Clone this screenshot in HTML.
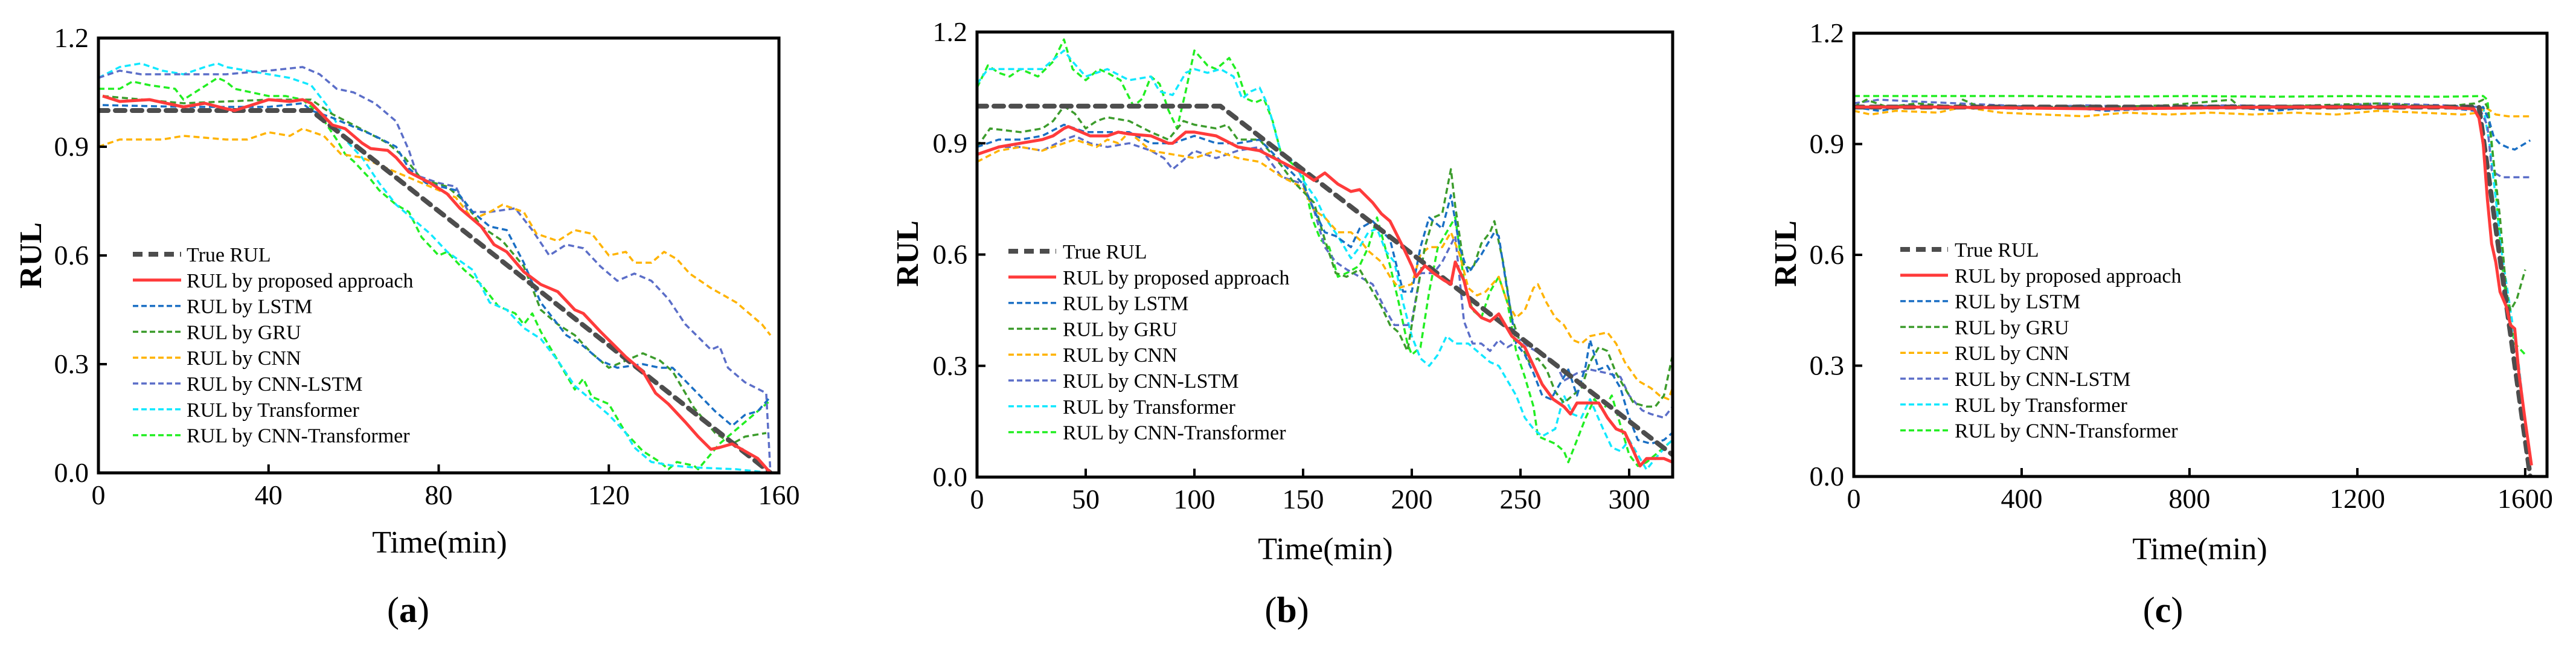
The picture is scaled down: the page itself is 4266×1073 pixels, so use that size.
<!DOCTYPE html>
<html><head><meta charset="utf-8"><style>
html,body{margin:0;padding:0;background:#fff;}
svg{display:block;}
text{font-family:"Liberation Serif",serif;fill:#000;}
</style></head><body>
<svg id="fig" width="4266" height="1073" viewBox="0 0 4266 1073" xmlns="http://www.w3.org/2000/svg"></svg>
<script>
// ---------- data ----------
const yTicks = [0.0, 0.3, 0.6, 0.9, 1.2];
const aXTicks = [0, 40, 80, 120, 160];
const bXTicks = [0, 50, 100, 150, 200, 250, 300];
const cXTicks = [0, 400, 800, 1200, 1600];
const seriesNames = ["True RUL","RUL by proposed approach","RUL by LSTM","RUL by GRU","RUL by CNN","RUL by CNN-LSTM","RUL by Transformer","RUL by CNN-Transformer"];

const a_true = [[0,1.0],[50,1.0],[158,0.0]];
const a_red = [[1,1.04],[5,1.025],[12,1.03],[20,1.01],[25,1.02],[30,1.005],[32,1.0],[40,1.03],[45,1.025],[48,1.03],[50,1.02],[55,0.96],[58,0.95],[62,0.91],[64,0.895],[68,0.89],[70,0.87],[73,0.83],[78,0.8],[82,0.77],[85,0.73],[90,0.68],[93,0.63],[96,0.61],[100,0.555],[104,0.52],[108,0.50],[112,0.45],[114,0.44],[118,0.39],[124,0.32],[128,0.28],[131,0.22],[134,0.19],[138,0.14],[141,0.10],[144,0.065],[146,0.07],[149,0.08],[152,0.06],[155,0.04],[158,0.0]];
const a_lstm = [[1,1.015],[20,1.01],[40,1.01],[48,1.02],[50,1.0],[55,0.98],[60,0.955],[65,0.93],[70,0.9],[73,0.84],[77,0.8],[84,0.78],[88,0.72],[92,0.68],[96,0.67],[100,0.58],[104,0.47],[110,0.38],[114,0.35],[118,0.31],[122,0.29],[128,0.30],[132,0.29],[135,0.29],[140,0.23],[145,0.17],[149,0.13],[152,0.16],[155,0.17],[158,0.21]];
const a_gru = [[1,1.04],[20,1.02],[40,1.03],[50,1.03],[55,0.99],[60,0.96],[68,0.91],[72,0.87],[76,0.81],[82,0.79],[86,0.75],[90,0.68],[95,0.64],[100,0.57],[104,0.45],[108,0.41],[112,0.38],[116,0.33],[120,0.29],[124,0.31],[128,0.33],[132,0.31],[135,0.28],[140,0.18],[145,0.11],[149,0.08],[152,0.10],[157,0.11]];
const a_cnn = [[0,0.9],[5,0.92],[15,0.92],[20,0.93],[30,0.92],[35,0.92],[40,0.94],[45,0.93],[48,0.95],[53,0.93],[57,0.88],[62,0.87],[66,0.85],[72,0.82],[78,0.79],[84,0.76],[88,0.70],[92,0.72],[95,0.74],[100,0.72],[103,0.66],[108,0.64],[112,0.67],[116,0.66],[120,0.60],[124,0.61],[126,0.58],[130,0.58],[133,0.61],[136,0.59],[139,0.55],[144,0.51],[150,0.47],[156,0.41],[158,0.38]];
const a_cnnlstm = [[0,1.09],[5,1.11],[10,1.1],[20,1.1],[30,1.1],[40,1.11],[48,1.12],[52,1.10],[56,1.06],[60,1.05],[65,1.02],[70,0.97],[73,0.89],[75,0.82],[80,0.80],[84,0.79],[87,0.72],[92,0.72],[98,0.73],[102,0.67],[106,0.60],[110,0.63],[114,0.62],[118,0.57],[122,0.53],[126,0.55],[130,0.53],[134,0.48],[138,0.41],[144,0.34],[146,0.35],[148,0.29],[152,0.25],[157,0.22],[158,0.0]];
const a_trans = [[0,1.09],[5,1.12],[10,1.13],[15,1.11],[20,1.10],[25,1.12],[28,1.13],[30,1.12],[35,1.11],[40,1.10],[45,1.09],[50,1.07],[54,1.01],[58,0.92],[62,0.87],[66,0.80],[70,0.74],[74,0.70],[78,0.66],[82,0.61],[88,0.56],[92,0.47],[96,0.45],[100,0.40],[104,0.37],[108,0.31],[112,0.24],[116,0.20],[120,0.16],[124,0.11],[126,0.07],[130,0.03],[135,0.02],[140,0.015],[150,0.01],[158,0.0]];
const a_cnntrans = [[0,1.06],[5,1.06],[8,1.08],[12,1.07],[18,1.06],[20,1.03],[24,1.06],[28,1.09],[30,1.08],[32,1.06],[36,1.05],[40,1.04],[44,1.04],[48,1.03],[52,0.99],[56,0.92],[58,0.88],[60,0.86],[64,0.81],[66,0.78],[70,0.74],[73,0.72],[76,0.65],[80,0.60],[82,0.61],[86,0.56],[90,0.52],[94,0.46],[98,0.44],[100,0.41],[102,0.44],[104,0.39],[108,0.31],[112,0.23],[114,0.26],[116,0.21],[120,0.19],[124,0.11],[128,0.06],[132,0.03],[134,0.01],[136,0.03],[140,0.02],[141,0.01],[146,0.08],[150,0.12],[154,0.16],[158,0.20]];

const b_true = [[0,1.0],[112,1.0],[320,0.06]];
const b_red = [[0,0.87],[10,0.89],[20,0.90],[30,0.91],[35,0.92],[40,0.94],[42,0.945],[48,0.93],[52,0.92],[60,0.92],[65,0.93],[70,0.925],[80,0.92],[88,0.90],[90,0.90],[96,0.93],[100,0.93],[110,0.92],[120,0.89],[130,0.88],[140,0.85],[150,0.82],[155,0.80],[160,0.82],[166,0.79],[172,0.77],[176,0.775],[182,0.74],[186,0.71],[190,0.69],[196,0.62],[200,0.57],[202,0.54],[206,0.57],[210,0.55],[215,0.53],[218,0.52],[220,0.58],[224,0.53],[227,0.46],[232,0.43],[236,0.42],[240,0.44],[243,0.41],[246,0.38],[252,0.35],[256,0.30],[260,0.25],[265,0.21],[270,0.19],[273,0.17],[276,0.20],[282,0.20],[286,0.20],[290,0.16],[294,0.13],[298,0.12],[302,0.07],[305,0.03],[308,0.05],[312,0.05],[316,0.05],[320,0.04]];
const b_lstm = [[0,0.89],[10,0.91],[20,0.91],[30,0.92],[40,0.95],[50,0.93],[60,0.93],[70,0.93],[80,0.90],[90,0.90],[100,0.92],[110,0.90],[120,0.90],[130,0.91],[140,0.85],[150,0.79],[155,0.72],[160,0.66],[165,0.65],[172,0.62],[176,0.67],[182,0.69],[190,0.64],[196,0.50],[200,0.50],[204,0.62],[208,0.70],[214,0.67],[218,0.76],[222,0.62],[226,0.55],[232,0.60],[238,0.66],[240,0.65],[244,0.50],[248,0.36],[252,0.33],[256,0.28],[260,0.22],[264,0.21],[268,0.25],[272,0.29],[276,0.22],[280,0.30],[282,0.37],[286,0.29],[290,0.30],[296,0.24],[300,0.16],[304,0.10],[310,0.09],[316,0.10],[320,0.12]];
const b_gru = [[0,0.89],[6,0.94],[20,0.93],[30,0.94],[35,0.96],[40,1.0],[45,0.98],[50,0.94],[55,0.96],[60,0.97],[70,0.96],[80,0.93],[88,0.91],[95,0.96],[100,0.95],[110,0.94],[115,0.95],[120,0.91],[130,0.91],[140,0.84],[145,0.80],[150,0.77],[155,0.74],[160,0.64],[165,0.55],[170,0.54],[176,0.56],[182,0.50],[186,0.46],[190,0.41],[194,0.39],[198,0.34],[202,0.48],[206,0.62],[210,0.70],[214,0.71],[218,0.83],[220,0.73],[224,0.57],[228,0.56],[232,0.63],[236,0.66],[238,0.69],[242,0.58],[246,0.43],[250,0.36],[254,0.31],[258,0.32],[262,0.29],[266,0.23],[270,0.20],[274,0.22],[278,0.24],[282,0.31],[286,0.35],[290,0.34],[294,0.28],[298,0.24],[302,0.20],[308,0.19],[312,0.19],[316,0.22],[320,0.33]];
const b_cnn = [[0,0.85],[10,0.88],[20,0.89],[30,0.88],[40,0.90],[45,0.91],[50,0.90],[55,0.89],[60,0.91],[65,0.90],[70,0.93],[80,0.88],[90,0.87],[100,0.86],[110,0.88],[120,0.86],[130,0.85],[140,0.81],[150,0.78],[155,0.72],[160,0.70],[166,0.66],[172,0.66],[176,0.64],[180,0.61],[186,0.58],[190,0.54],[194,0.51],[200,0.52],[204,0.60],[208,0.62],[214,0.62],[218,0.66],[222,0.60],[226,0.51],[230,0.49],[234,0.50],[240,0.54],[244,0.47],[248,0.43],[252,0.45],[256,0.51],[258,0.52],[262,0.47],[266,0.43],[270,0.41],[274,0.37],[278,0.36],[282,0.38],[290,0.39],[294,0.36],[298,0.31],[304,0.26],[310,0.24],[314,0.22],[318,0.21],[320,0.24]];
const b_cnnlstm = [[0,0.87],[10,0.89],[20,0.89],[30,0.88],[40,0.91],[45,0.92],[52,0.90],[60,0.89],[70,0.90],[80,0.88],[86,0.86],[90,0.83],[94,0.85],[100,0.88],[110,0.86],[120,0.88],[130,0.89],[140,0.81],[150,0.79],[155,0.72],[160,0.62],[165,0.58],[170,0.56],[176,0.54],[182,0.52],[188,0.45],[192,0.41],[198,0.41],[200,0.42],[204,0.55],[210,0.55],[214,0.58],[220,0.65],[224,0.42],[228,0.36],[232,0.36],[236,0.34],[240,0.37],[244,0.35],[250,0.37],[254,0.35],[260,0.33],[266,0.31],[270,0.26],[276,0.28],[282,0.29],[290,0.28],[296,0.27],[300,0.22],[306,0.18],[310,0.17],[316,0.16],[320,0.19]];
const b_trans = [[0,1.06],[5,1.10],[10,1.10],[20,1.10],[30,1.10],[38,1.14],[40,1.15],[44,1.12],[50,1.08],[55,1.09],[60,1.10],[70,1.07],[80,1.08],[84,1.04],[90,1.03],[96,1.09],[100,1.10],[106,1.09],[112,1.10],[118,1.08],[122,1.02],[126,1.04],[130,1.05],[134,1.00],[140,0.87],[146,0.85],[150,0.80],[156,0.75],[160,0.70],[166,0.65],[170,0.61],[172,0.59],[176,0.62],[180,0.66],[184,0.67],[188,0.61],[192,0.58],[196,0.47],[200,0.38],[204,0.32],[208,0.30],[212,0.33],[216,0.38],[220,0.36],[226,0.36],[232,0.33],[236,0.31],[240,0.30],[244,0.26],[248,0.22],[252,0.16],[256,0.13],[260,0.11],[266,0.13],[270,0.22],[274,0.17],[278,0.16],[282,0.21],[288,0.13],[292,0.08],[296,0.07],[300,0.10],[304,0.06],[308,0.02],[312,0.05],[318,0.09],[320,0.10]];
const b_cnntrans = [[0,1.05],[5,1.11],[10,1.09],[15,1.08],[20,1.10],[28,1.08],[35,1.12],[40,1.18],[44,1.10],[50,1.07],[56,1.10],[60,1.09],[66,1.07],[72,1.00],[76,1.02],[80,1.08],[84,1.06],[88,0.99],[92,0.94],[96,1.04],[100,1.15],[106,1.11],[110,1.10],[116,1.13],[120,1.09],[124,1.02],[128,1.01],[132,1.02],[136,0.96],[140,0.87],[146,0.84],[150,0.81],[154,0.70],[158,0.64],[162,0.62],[166,0.54],[170,0.55],[176,0.57],[180,0.62],[184,0.70],[190,0.57],[194,0.47],[198,0.36],[200,0.33],[204,0.35],[208,0.50],[212,0.62],[216,0.66],[220,0.70],[224,0.53],[228,0.45],[232,0.43],[236,0.50],[240,0.54],[244,0.47],[248,0.34],[252,0.27],[256,0.19],[258,0.11],[262,0.10],[266,0.09],[270,0.07],[272,0.04],[276,0.10],[280,0.16],[284,0.21],[288,0.18],[292,0.22],[296,0.14],[300,0.06],[304,0.03],[308,0.04],[312,0.06],[316,0.08],[320,0.10]];

const c_true = [[0,1.0],[1490,1.0],[1612,0.0]];
const c_red = [[0,1.0],[200,1.0],[600,0.995],[1000,1.0],[1400,1.0],[1478,0.995],[1490,0.97],[1500,0.90],[1510,0.75],[1520,0.63],[1530,0.58],[1540,0.50],[1555,0.46],[1565,0.41],[1575,0.40],[1585,0.28],[1600,0.15],[1615,0.03]];
const c_lstm = [[0,1.0],[60,0.99],[120,1.0],[200,1.0],[300,1.0],[400,0.995],[500,1.0],[600,0.99],[700,0.995],[800,1.0],[900,1.0],[1000,0.99],[1100,1.0],[1200,0.995],[1300,1.0],[1400,1.0],[1480,0.99],[1500,1.0],[1515,0.96],[1525,0.92],[1540,0.90],[1560,0.89],[1575,0.885],[1590,0.895],[1612,0.91]];
const c_gru = [[0,1.0],[30,1.02],[80,1.0],[150,1.01],[250,1.0],[260,1.02],[300,1.0],[450,1.0],[600,1.0],[750,1.005],[900,1.02],[920,1.0],[1100,1.005],[1250,1.01],[1400,1.0],[1480,1.01],[1500,1.02],[1510,1.0],[1525,0.85],[1540,0.70],[1555,0.50],[1565,0.45],[1580,0.48],[1600,0.56]];
const c_cnn = [[0,0.99],[40,0.98],[100,0.99],[200,0.985],[260,1.0],[350,0.985],[450,0.98],[550,0.975],[650,0.985],[750,0.98],[850,0.985],[950,0.98],[1050,0.985],[1150,0.98],[1250,0.99],[1350,0.985],[1450,0.98],[1490,0.985],[1505,1.0],[1530,0.98],[1560,0.975],[1612,0.975]];
const c_cnnlstm = [[0,1.01],[60,1.02],[150,1.015],[250,1.01],[350,1.005],[450,1.0],[550,1.005],[700,1.0],[900,1.005],[1100,1.0],[1250,1.01],[1400,1.005],[1490,1.0],[1510,0.95],[1520,0.83],[1530,0.82],[1545,0.81],[1580,0.81],[1612,0.81]];
const c_trans = [[0,1.0],[200,1.0],[500,1.0],[800,1.0],[1100,1.0],[1400,1.0],[1500,1.0],[1515,0.90],[1530,0.75],[1545,0.60],[1565,0.45],[1585,0.30],[1600,0.15],[1612,0.05]];
const c_cnntrans = [[0,1.03],[200,1.03],[400,1.03],[600,1.028],[800,1.03],[1000,1.028],[1200,1.03],[1400,1.028],[1500,1.03],[1510,1.02],[1525,0.85],[1535,0.70],[1550,0.52],[1560,0.45],[1575,0.36],[1600,0.33]];

// ---------- rendering ----------
const NS = "http://www.w3.org/2000/svg";
const svg = document.getElementById("fig");
function mk(tag, attrs, parent){ const e=document.createElementNS(NS,tag); for(const k in attrs) e.setAttribute(k,attrs[k]); (parent||svg).appendChild(e); return e; }

const styles = [
  {color:"#4d4d4d", w:8, dash:"16 12"},
  {color:"#ff3b3b", w:5, dash:""},
  {color:"#1a6fc4", w:3.5, dash:"10 6"},
  {color:"#3c9c2c", w:3.5, dash:"10 6"},
  {color:"#ffb300", w:3.5, dash:"10 6"},
  {color:"#5b6ec8", w:3.5, dash:"10 6"},
  {color:"#11e8ff", w:3.5, dash:"10 6"},
  {color:"#22ee22", w:3.5, dash:"10 6"}
];
const drawOrder = [7,6,5,4,3,2,0,1];

const panels = [
  {id:"a", L:163, R:1290, T:63, B:783, xmax:160, ticks:aXTicks, series:[a_true,a_red,a_lstm,a_gru,a_cnn,a_cnnlstm,a_trans,a_cnntrans], ylab:[50,423], xlab:[728,915], lab:[676,1030], leg:[220,300,309,421]},
  {id:"b", L:1618, R:2770, T:53, B:790, xmax:320, ticks:bXTicks, series:[b_true,b_red,b_lstm,b_gru,b_cnn,b_cnnlstm,b_trans,b_cnntrans], ylab:[1502,420], xlab:[2195,926], lab:[2131,1030], leg:[1670,1749,1760,416]},
  {id:"c", L:3070, R:4218, T:55, B:789, xmax:1652, ticks:cXTicks, series:[c_true,c_red,c_lstm,c_gru,c_cnn,c_cnnlstm,c_trans,c_cnntrans], ylab:[2956,420], xlab:[3643,926], lab:[3582,1030], leg:[3147,3226,3237,413]}
];

panels.forEach(p=>{
  const g = mk("g",{});
  
  
  const xs = t => p.L + (p.R-p.L)*t/p.xmax;
  const ys = v => p.B - (p.B-p.T)*v/1.2;
  const clipId = "clip"+p.id;
  const cp = mk("clipPath",{id:clipId},g); mk("rect",{x:p.L,y:p.T-10,width:p.R-p.L,height:p.B-p.T+10},cp);
  // series
  const sg = mk("g",{"clip-path":"url(#"+clipId+")"},g);
  drawOrder.forEach(i=>{
    const d = p.series[i].map((pt,k)=>(k?"L":"M")+xs(pt[0]).toFixed(1)+","+ys(pt[1]).toFixed(1)).join("");
    const s = styles[i];
    const path = mk("path",{d:d,fill:"none",stroke:s.color,"stroke-width":s.w,"stroke-dasharray":s.dash,"stroke-linejoin":"round","stroke-linecap":i===0?"round":"butt"},sg);
    
    
  });
  // frame
  const fr = mk("rect",{x:p.L,y:p.T,width:p.R-p.L,height:p.B-p.T,fill:"none",stroke:"#000","stroke-width":5},g);
  
  
  // y ticks
  yTicks.forEach(v=>{
    mk("line",{x1:p.L,x2:p.L+14,y1:ys(v),y2:ys(v),stroke:"#000","stroke-width":4},g);
    const t = mk("text",{x:p.L-16,y:ys(v)+15,"text-anchor":"end","font-size":46},g);
    t.textContent = v.toFixed(1);
    
    
  });
  // x ticks
  p.ticks.forEach(v=>{
    mk("line",{x1:xs(v),x2:xs(v),y1:p.B,y2:p.B-14,stroke:"#000","stroke-width":4},g);
    const t = mk("text",{x:xs(v),y:p.B+52,"text-anchor":"middle","font-size":46},g);
    t.textContent = String(v);
    
    
  });
  // axis titles
  const yt = mk("text",{x:p.ylab[0],y:p.ylab[1],"text-anchor":"middle","font-size":52,"font-weight":"bold",transform:"rotate(-90 "+p.ylab[0]+" "+p.ylab[1]+") translate(0 18)"},g);
  yt.textContent="RUL";
  
  
  const xt = mk("text",{x:p.xlab[0],y:p.xlab[1],"text-anchor":"middle","font-size":52},g);
  xt.textContent="Time(min)";
  
  
  const pl = mk("text",{x:p.lab[0],y:p.lab[1],"text-anchor":"middle","font-size":60},g);
  pl.innerHTML = '(<tspan font-weight="bold">'+p.id+'</tspan>)';
  
  
  // legend
  const lg = mk("g",{},g);
  
  
  seriesNames.forEach((n,i)=>{
    const y = p.leg[3] + i*42.8;
    const s = styles[i];
    const e = mk("g",{},lg);
    
    
    mk("line",{x1:p.leg[0],x2:p.leg[1],y1:y,y2:y,stroke:s.color,"stroke-width":s.w,"stroke-dasharray":i===0?"16 10":(s.dash?"9 5":"")},e);
    const t = mk("text",{x:p.leg[2],y:y+12,"font-size":34},e);
    t.textContent = n;
  });
});
</script>
</body></html>
